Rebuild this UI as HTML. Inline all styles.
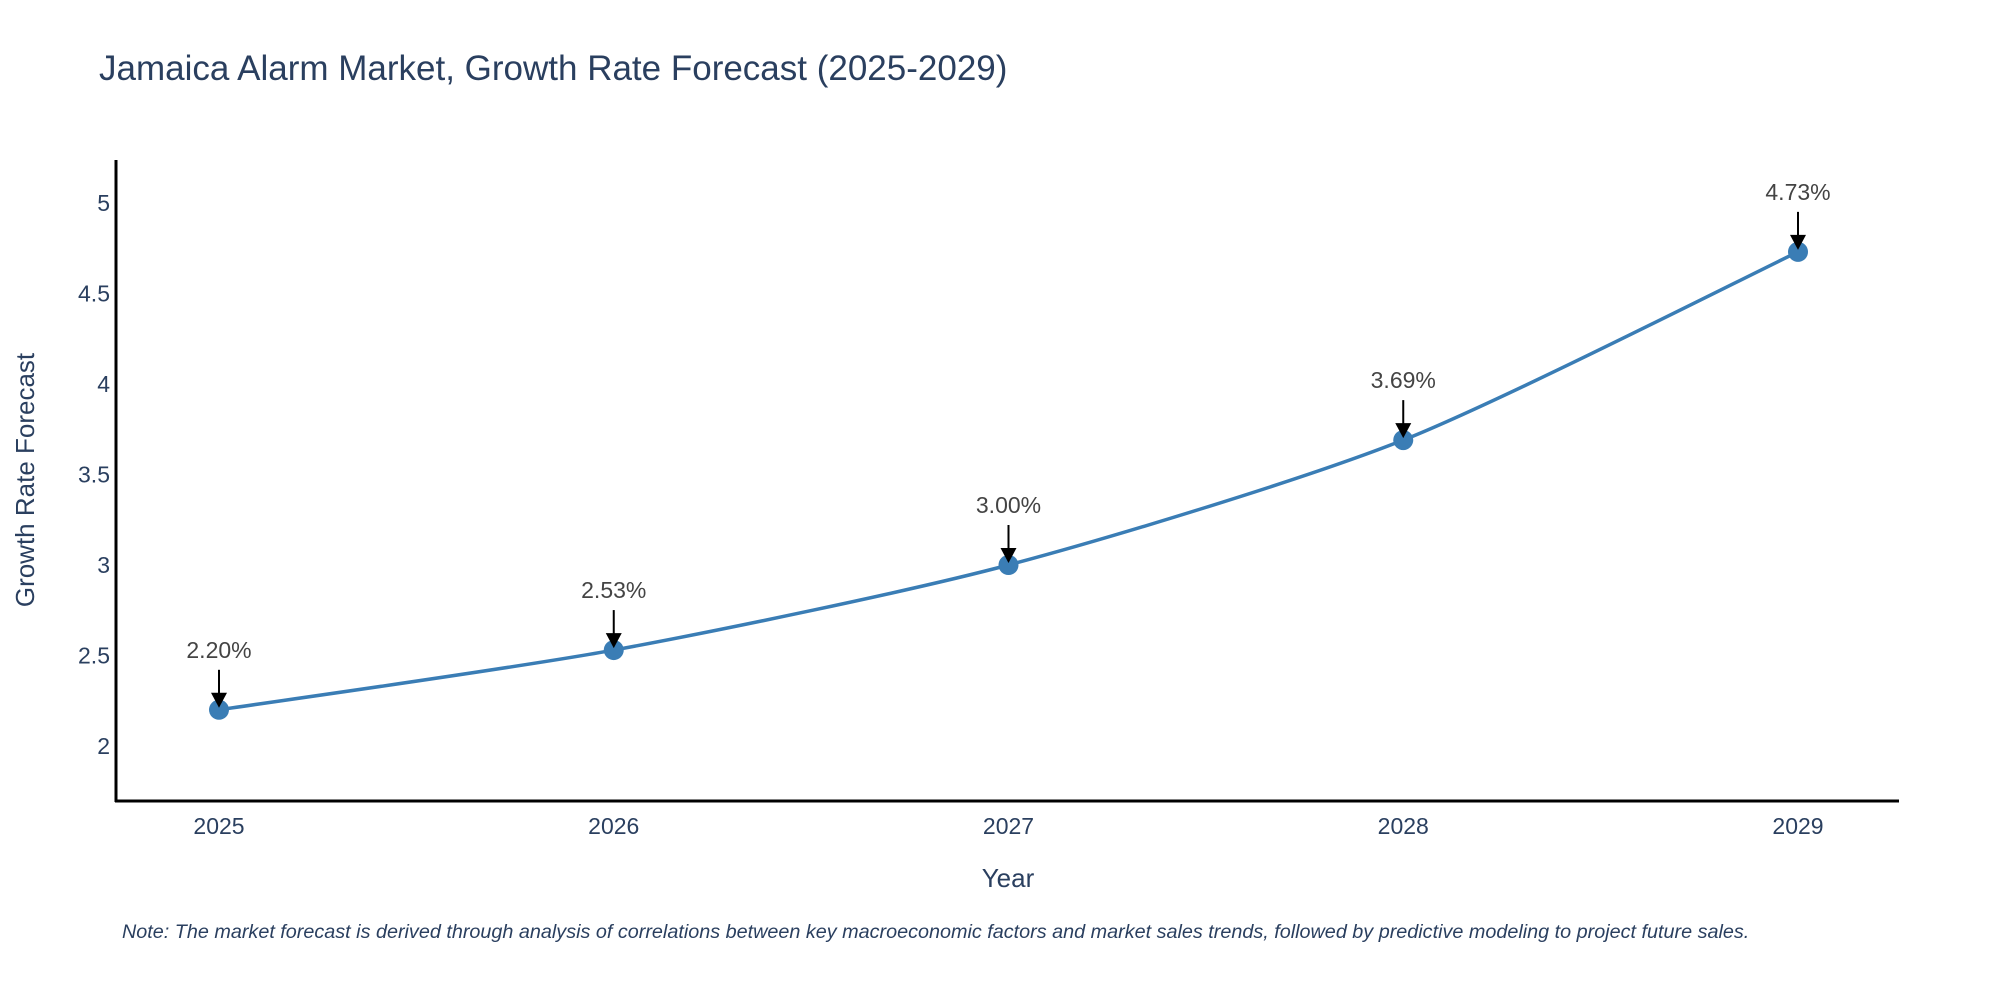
<!DOCTYPE html>
<html><head><meta charset="utf-8"><style>
body{margin:0;background:#fff;}
svg text{font-family:"Liberation Sans","DejaVu Sans",sans-serif;}
</style></head><body>
<svg width="2000" height="1000" viewBox="0 0 2000 1000">
<text x="99" y="80" font-size="35" fill="#2a3f5f">Jamaica Alarm Market, Growth Rate Forecast (2025-2029)</text>
<line x1="116" y1="160" x2="116" y2="802" stroke="#000" stroke-width="3"/>
<line x1="115" y1="801" x2="1899" y2="801" stroke="#000" stroke-width="3"/>
<g id="yt"></g><g id="xt"></g>
<path id="line" fill="none" stroke="#3a7db5" stroke-width="3.5"/>
<g id="pts"></g>
<text transform="translate(34,480) rotate(-90)" text-anchor="middle" font-size="26" fill="#2a3f5f">Growth Rate Forecast</text>
<text x="1008" y="887" text-anchor="middle" font-size="26" fill="#2a3f5f">Year</text>
<text x="122" y="938" font-size="19.8" font-style="italic" fill="#2a3f5f">Note: The market forecast is derived through analysis of correlations between key macroeconomic factors and market sales trends, followed by predictive modeling to project future sales.</text>
</svg>
<script>
const years=[2025,2026,2027,2028,2029];
const values=[2.20,2.53,3.00,3.69,4.73];
const labels=["2.20%","2.53%","3.00%","3.69%","4.73%"];
const yTicks=[2,2.5,3,3.5,4,4.5,5];
const NS="http://www.w3.org/2000/svg";
function xs(y){return 219+(y-2025)*(1798-219)/4;}
function ys(v){return 746-(v-2)*(746-203)/3;}
function mk(t,a,p){const e=document.createElementNS(NS,t);for(const k in a)e.setAttribute(k,a[k]);p.appendChild(e);return e;}
const yt=document.getElementById('yt');
yTicks.forEach(v=>{const t=mk('text',{x:110,y:ys(v)+8,'text-anchor':'end','font-size':23,fill:'#2a3f5f'},yt);t.textContent=String(v);

});
const xt=document.getElementById('xt');
years.forEach(y=>{const t=mk('text',{x:xs(y),y:834,'text-anchor':'middle','font-size':23,fill:'#2a3f5f'},xt);t.textContent=String(y);

});
const P=years.map((y,i)=>[xs(y),ys(values[i])]);
let d="M"+P[0][0]+","+P[0][1];
for(let i=0;i<P.length-1;i++){const p0=P[i-1]||P[i],p1=P[i],p2=P[i+1],p3=P[i+2]||p2;const k=8;
d+=` C${p1[0]+(p2[0]-p0[0])/k},${p1[1]+(p2[1]-p0[1])/k} ${p2[0]-(p3[0]-p1[0])/k},${p2[1]-(p3[1]-p1[1])/k} ${p2[0]},${p2[1]}`;}
document.getElementById('line').setAttribute('d',d);
const g=document.getElementById('pts');
P.forEach((p,i)=>{const c=mk('circle',{cx:p[0],cy:p[1],r:10,fill:'#3a7db5'},g);


const l=mk('line',{x1:p[0],y1:p[1]-40,x2:p[0],y2:p[1]-14,stroke:'#000','stroke-width':2},g);


const h=mk('path',{d:`M${p[0]-8},${p[1]-17} L${p[0]+8},${p[1]-17} L${p[0]},${p[1]-2} Z`,fill:'#000'},g);


const t=mk('text',{x:p[0],y:p[1]-52,'text-anchor':'middle','font-size':23,fill:'#444'},g);t.textContent=labels[i];

});
</script>
</body></html>
